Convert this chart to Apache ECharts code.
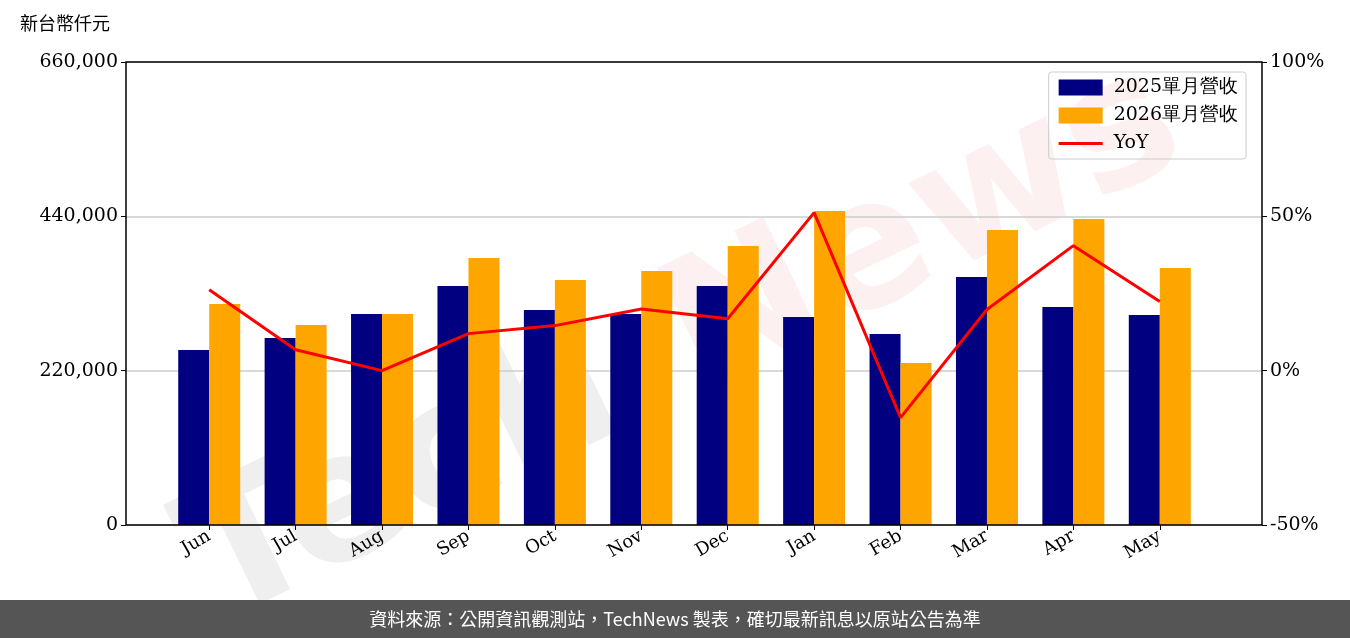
<!DOCTYPE html>
<html><head><meta charset="utf-8">
<script src="https://cdn.jsdelivr.net/npm/echarts@6/dist/echarts.min.js"></script>
<style>html,body{margin:0;padding:0;background:#fff}#c{width:1350px;height:638px}</style>
</head><body><div id="c"></div>
<script>
const categories=['Jun','Jul','Aug','Sep','Oct','Nov','Dec','Jan','Feb','Mar','Apr','May'];
const rev2025=[249500,266600,300800,340700,306500,300800,340700,296500,272300,353500,310800,299400];
const rev2026=[315000,285100,300800,380600,349200,362100,397700,447600,230900,420500,436200,366400];
const yoy=[26.2,6.8,0,12,14.6,20,16.8,51.2,-15.2,19.8,40.5,22.4];
const serif='DejaVu Serif';
const chart=echarts.init(document.getElementById('c'));
chart.setOption({
 animation:false,
 grid:[
  {left:126,right:88,top:62,bottom:113},
  {left:166,right:147,top:62,bottom:113}
 ],
 graphic:[
  {type:'text',left:20,top:14,style:{text:'新台幣仟元',font:'18px "Noto Sans CJK TC"',fill:'#000'}},
  {type:'text',x:160,y:500,rotation:0.45,style:{text:'Tech',font:'bold 180px "DejaVu Sans"',fill:'rgba(120,120,120,0.12)'}},
  {type:'text',x:640,y:270,rotation:0.45,style:{text:'News',font:'bold 180px "DejaVu Sans"',fill:'rgba(230,120,120,0.11)'}},
  {type:'rect',z:100,shape:{x:126,y:62,width:1136,height:463},style:{fill:'none',stroke:'#000',lineWidth:1.5}},
  {type:'rect',shape:{x:0,y:600,width:1350,height:38},style:{fill:'#555'}},
  {type:'text',x:675,y:619,style:{text:'資料來源：公開資訊觀測站，TechNews 製表，確切最新訊息以原站公告為準',font:'18px "Noto Sans CJK TC"',fill:'#fff',textAlign:'center',textVerticalAlign:'middle'}}
 ],
 legend:{top:72,right:104,orient:'vertical',itemGap:9,itemWidth:44,itemHeight:16,borderColor:'#ccc',borderWidth:1,borderRadius:3,padding:[6,8,6,10],
  textStyle:{fontFamily:serif,fontSize:19,color:'#000',padding:[0,0,0,6]},
  data:[{name:'2025單月營收',icon:'rect'},{name:'2026單月營收',icon:'rect'},{name:'YoY',icon:'path://M0,7 L44,7 L44,10 L0,10 Z',itemStyle:{color:'#f00'}}]},
 xAxis:[
  {type:'value',gridIndex:0,show:false,min:0,max:1},
  {type:'category',gridIndex:1,data:categories,axisLine:{show:false},axisTick:{show:true,alignWithLabel:true,length:5,lineStyle:{color:'#000'}},
  axisLabel:{rotate:30,fontFamily:serif,fontSize:18,color:'#000',margin:10}}
 ],
 yAxis:[
  {type:'value',gridIndex:0,min:0,max:660000,interval:220000,axisLine:{show:false},axisTick:{show:true,length:5,lineStyle:{color:'#000'}},
   splitLine:{lineStyle:{color:'#ccc',width:1.5}},
   axisLabel:{fontFamily:serif,fontSize:19,color:'#000',formatter:v=>v.toLocaleString('en-US')}},
  {type:'value',gridIndex:0,min:-50,max:100,interval:50,position:'right',axisLine:{show:false},axisTick:{show:true,length:5,lineStyle:{color:'#000'}},splitLine:{show:false},
   axisLabel:{fontFamily:serif,fontSize:19,color:'#000',formatter:v=>v+'%'}},
  {type:'value',gridIndex:1,min:0,max:660000,show:false,splitLine:{show:false}},
  {type:'value',gridIndex:1,min:-50,max:100,show:false,splitLine:{show:false}}
 ],
 series:[
  {name:'2025單月營收',type:'bar',xAxisIndex:1,yAxisIndex:2,data:rev2025,barWidth:31,barGap:'0%',itemStyle:{color:'#000080'}},
  {name:'2026單月營收',type:'bar',xAxisIndex:1,yAxisIndex:2,data:rev2026,barWidth:31,itemStyle:{color:'#FFA500'}},
  {name:'YoY',type:'line',xAxisIndex:1,yAxisIndex:3,data:yoy,symbol:'none',lineStyle:{color:'#f00',width:3},itemStyle:{color:'#f00'}}
 ]
});
</script></body></html>
